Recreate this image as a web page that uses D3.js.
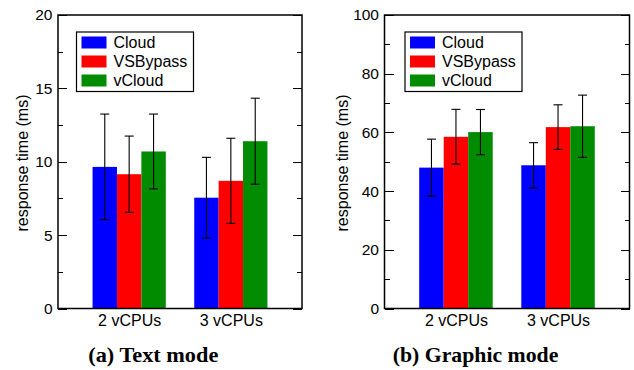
<!DOCTYPE html>
<meta charset="utf-8">
<style>
body { margin: 0; background: #fff; }
text { font-family: "Liberation Sans", Arial, sans-serif; fill: #000; }
.caption { font-family: "Liberation Serif", "Times New Roman", serif; font-weight: bold; }
.axis path { display: none; }
.axis line { stroke: #000; stroke-width: 1px; shape-rendering: crispEdges; }
</style>
<svg width="634" height="370"></svg>
<script src="https://d3js.org/d3.v7.min.js"></script>
<script>
// categories and series
var categories = ["2 vCPUs", "3 vCPUs"];
var seriesNames = ["Cloud", "VSBypass", "vCloud"];
var seriesColors = ["#0000ff", "#ff0000", "#008b00"];

// (a) text mode, mean and error (ms)
var textCloud = [9.65, 7.55];
var textVSBypass = [9.15, 8.7];
var textVCloud = [10.7, 11.4];
var textCloudErr = [3.6, 2.75];
var textVSBypassErr = [2.6, 2.9];
var textVCloudErr = [2.55, 2.93];
var textTicks = [0, 5, 10, 15, 20];

// (b) graphic mode, mean and error (ms)
var graphicCloud = [48.0, 48.8];
var graphicVSBypass = [58.5, 61.8];
var graphicVCloud = [60.1, 62.1];
var graphicCloudErr = [9.7, 7.7];
var graphicVSBypassErr = [9.35, 7.6];
var graphicVCloudErr = [7.7, 10.6];
var graphicTicks = [0, 20, 40, 60, 80, 100];

var svg = d3.select("svg");

function panel(p) {
  var x = d3.scaleLinear().domain([0.3, 2.7]).range([p.left, p.right]);
  var y = d3.scaleLinear().domain([0, p.max]).range([308.5, 15]);
  var barW = 0.24;
  var g = svg.append("g");

  var rows = [];
  p.means.forEach(function(vals, s) {
    vals.forEach(function(v, c) {
      rows.push({s: s, c: c, v: v, e: p.errs[s][c], xc: c + 1 + (s - 1) * barW});
    });
  });

  g.selectAll(".bar").data(rows).enter().append("rect")
    .attr("x", function(d) { return x(d.xc - barW / 2); })
    .attr("width", function(d) { return x(d.xc + barW / 2) - x(d.xc - barW / 2); })
    .attr("y", function(d) { return y(d.v); })
    .attr("height", function(d) { return y(0) - y(d.v); })
    .attr("fill", function(d) { return seriesColors[d.s]; });

  // error bars
  var eb = g.selectAll(".err").data(rows).enter().append("g")
    .attr("stroke", "#000").attr("stroke-width", 1.1);
  eb.append("line")
    .attr("x1", function(d) { return x(d.xc); }).attr("x2", function(d) { return x(d.xc); })
    .attr("y1", function(d) { return y(d.v + d.e); }).attr("y2", function(d) { return y(d.v - d.e); });
  eb.append("line")
    .attr("x1", function(d) { return x(d.xc) - 4.5; }).attr("x2", function(d) { return x(d.xc) + 4.5; })
    .attr("y1", function(d) { return y(d.v + d.e); }).attr("y2", function(d) { return y(d.v + d.e); });
  eb.append("line")
    .attr("x1", function(d) { return x(d.xc) - 4.5; }).attr("x2", function(d) { return x(d.xc) + 4.5; })
    .attr("y1", function(d) { return y(d.v - d.e); }).attr("y2", function(d) { return y(d.v - d.e); });

  // y axes, ticks pointing inward on both sides
  var minor = d3.range(0, p.max + 0.001, p.minorStep);
  g.append("g").attr("class", "axis").attr("transform", "translate(" + p.left + ",0)")
    .call(d3.axisLeft(y).tickValues(minor).tickSize(-5).tickFormat(""));
  g.append("g").attr("class", "axis").attr("transform", "translate(" + p.right + ",0)")
    .call(d3.axisRight(y).tickValues(minor).tickSize(-5).tickFormat(""));
  g.append("g").attr("class", "axis").attr("transform", "translate(" + p.right + ",0)")
    .call(d3.axisRight(y).tickValues(p.ticks).tickSize(-9).tickFormat(""));
  g.append("g").attr("class", "axis").attr("transform", "translate(" + p.left + ",0)")
    .call(d3.axisLeft(y).tickValues(p.ticks).tickSize(-9).tickPadding(5.5))
    .selectAll("text").style("font-size", "15.5px");

  g.append("g").attr("class", "axis").attr("transform", "translate(0," + y(0) + ")")
    .call(d3.axisBottom(x).tickValues([1, 2]).tickSize(0).tickPadding(6)
      .tickFormat(function(d) { return categories[d - 1]; }))
    .selectAll("text").style("font-size", "16px");

  // frame
  g.append("rect")
    .attr("x", p.left).attr("y", y(p.max))
    .attr("width", p.right - p.left).attr("height", y(0) - y(p.max))
    .attr("fill", "none").attr("stroke", "#000").attr("stroke-width", 1.5);

  g.append("text")
    .attr("transform", "translate(" + p.titleX + ",163) rotate(-90)")
    .attr("text-anchor", "middle")
    .style("font-size", "16px")
    .text("response time (ms)");

  // legend
  var lg = g.append("g").attr("transform", "translate(" + p.legX + ",32)");
  lg.append("rect").attr("width", 117).attr("height", 59.5)
    .attr("fill", "#fff").attr("stroke", "#000").attr("stroke-width", 1.2);
  seriesNames.forEach(function(name, i) {
    lg.append("rect").attr("x", 5).attr("y", 4.5 + i * 19).attr("width", 25).attr("height", 12)
      .attr("fill", seriesColors[i]);
    lg.append("text").attr("x", 37).attr("y", 16 + i * 19)
      .style("font-size", "16px").text(name);
  });

  g.append("text").attr("class", "caption")
    .attr("x", p.capX).attr("y", 361.5).attr("text-anchor", "middle")
    .attr("textLength", p.capLen).attr("lengthAdjust", "spacingAndGlyphs")
    .style("font-size", "21px").text(p.caption);
}

panel({
  left: 58, right: 302, max: 20, ticks: textTicks, minorStep: 2.5,
  means: [textCloud, textVSBypass, textVCloud],
  errs: [textCloudErr, textVSBypassErr, textVCloudErr],
  titleX: 28, legX: 76.5, capX: 153.3, capLen: 130, caption: "(a) Text mode"
});
panel({
  left: 384.5, right: 629.5, max: 100, ticks: graphicTicks, minorStep: 10,
  means: [graphicCloud, graphicVSBypass, graphicVCloud],
  errs: [graphicCloudErr, graphicVSBypassErr, graphicVCloudErr],
  titleX: 348, legX: 405, capX: 475.5, capLen: 165.6, caption: "(b) Graphic mode"
});
</script>
